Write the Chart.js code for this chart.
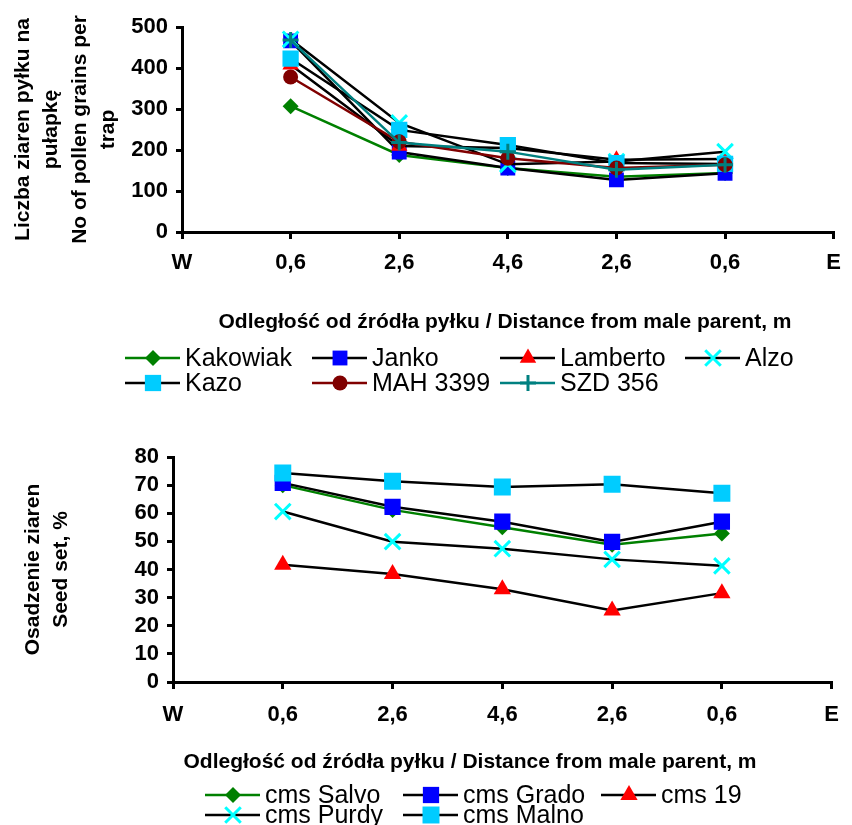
<!DOCTYPE html>
<html>
<head>
<meta charset="utf-8">
<script src="https://cdn.jsdelivr.net/npm/chart.js@4.4.1/dist/chart.umd.min.js"></script>
<style>
    html, body { margin: 0; padding: 0; background: #fff; }
    #wrap { width: 852px; height: 825px; position: relative; overflow: hidden; }
    .box { position: absolute; left: 0; width: 852px; }
</style>
</head>
<body>
<div id="wrap">
    <div class="box" style="top:0;height:410px"><canvas id="chartPylek"></canvas></div>
    <div class="box" style="top:410px;height:415px"><canvas id="chartNasiona"></canvas></div>
</div>
<script>
// ===== DANE =====
const KATEGORIE = ['W', '0,6', '2,6', '4,6', '2,6', '0,6', 'E'];

// liczba ziaren pyłku na pułapkę
const kakowiak = [null, 307, 188, 156, 135, 144, null];
const janko    = [null, 466, 195, 156, 127, 143, null];
const lamberto = [null, 408, 210, 205, 176, 178, null];
const alzo     = [null, 470, 266, 165, 172, 196, null];
const kazo     = [null, 423, 249, 212, 168, 166, null];
const mah3399  = [null, 378, 220, 180, 156, 164, null];
const szd356   = [null, 468, 218, 196, 152, 164, null];

// osadzenie ziaren, %
const cmsSalvo = [null, 70.0, 61.2, 55.0, 48.8, 52.8, null];
const cmsGrado = [null, 70.8, 62.3, 57.0, 49.8, 57.0, null];
const cms19    = [null, 41.7, 38.4, 33.0, 25.4, 31.6, null];
const cmsPurdy = [null, 60.6, 49.9, 47.4, 43.6, 41.3, null];
const cmsMalno = [null, 74.3, 71.4, 69.3, 70.3, 67.1, null];

const FONT = "'Liberation Sans', Arial, sans-serif";
const TYTUL_X = 'Odległość od źródła pyłku / Distance from male parent, m';

// ===== POMOCNICZE =====
function seria(label, data, kolor, linia, styl, r, i) {
    const krzyz = styl === 'cross' || styl === 'crossRot';
    return {
        label, data,
        borderColor: linia,
        backgroundColor: kolor,
        pointBackgroundColor: kolor,
        pointBorderColor: kolor,
        pointStyle: styl,
        pointRadius: r,
        pointBorderWidth: krzyz ? 3 : 0,
        borderWidth: 2.5,
        tension: 0,
        order: 20 - i   // późniejsze serie na wierzchu, jak w Excelu
    };
}

// tytuł osi X + legenda (linia + znacznik + tekst), rysowane ręcznie
const legendaPlugin = {
    id: 'legendaLinia',
    afterDraw(chart, args, opts) {
        const ctx = chart.ctx;
        ctx.save();
        ctx.fillStyle = '#000';
        ctx.textBaseline = 'middle';
        ctx.textAlign = 'center';
        ctx.font = `bold 21px ${FONT}`;
        ctx.fillText(TYTUL_X, opts.tytulX, opts.tytulY);

        ctx.font = opts.font;
        ctx.textAlign = 'left';
        chart.data.datasets.forEach((ds, i) => {
            const x = opts.kolumny[i % opts.kolumny.length];
            const y = opts.wiersze[Math.floor(i / opts.kolumny.length)];
            ctx.strokeStyle = ds.borderColor;
            ctx.lineWidth = 2.5;
            ctx.beginPath();
            ctx.moveTo(x, y);
            ctx.lineTo(x + 55, y);
            ctx.stroke();
            ctx.fillStyle = ds.pointBackgroundColor;
            ctx.strokeStyle = ds.pointBorderColor;
            ctx.lineWidth = ds.pointBorderWidth;
            Chart.helpers.drawPoint(ctx, {
                pointStyle: ds.pointStyle,
                radius: ds.pointRadius,
                rotation: 0,
                borderWidth: ds.pointBorderWidth
            }, x + 28, y);
            ctx.fillStyle = '#000';
            ctx.fillText(ds.label, x + 60, y + 1);
        });
        ctx.restore();
    }
};

function opcje(cfg) {
    return {
        responsive: true,
        maintainAspectRatio: false,
        animation: false,
        devicePixelRatio: 1,
        layout: { padding: { top: cfg.top, right: cfg.right, left: 0, bottom: 0 } },
        plugins: {
            legend: { display: false },
            tooltip: { enabled: false },
            legendaLinia: cfg.legenda
        },
        scales: {
            x: {
                type: 'category',
                offset: false,
                afterFit: s => { s.height = cfg.xHeight; },
                border: { display: true, color: '#000', width: 3 },
                grid: { display: true, drawOnChartArea: false, drawTicks: true, tickLength: 7, color: '#000', lineWidth: 3 },
                ticks: { color: '#000', padding: cfg.xPad, maxRotation: 0, autoSkip: false, font: { family: FONT, size: 22, weight: 'bold' } },
                title: { display: false }
            },
            y: {
                min: 0, max: cfg.yMax,
                afterFit: s => { s.width = cfg.yWidth; },
                border: { display: true, color: '#000', width: 3 },
                grid: { display: true, drawOnChartArea: false, drawTicks: true, tickLength: 6, color: '#000', lineWidth: 3 },
                ticks: { stepSize: cfg.step, autoSkip: false, color: '#000', padding: 8, font: { family: FONT, size: 22, weight: 'bold' } },
                title: {
                    display: true, text: cfg.yTitle, color: '#000',
                    font: { family: FONT, size: 21, weight: 'bold', lineHeight: cfg.yLH },
                    padding: { top: cfg.yTitleTop, bottom: 0 }
                }
            }
        }
    };
}

// ===== WYKRES 1: pyłek =====
new Chart(document.getElementById('chartPylek'), {
    type: 'line',
    data: {
        labels: KATEGORIE,
        datasets: [
            seria('Kakowiak', kakowiak, '#008000', '#008000', 'rectRot', 8, 0),
            seria('Janko', janko, '#0000FF', '#000000', 'rect', 10.5, 1),
            seria('Lamberto', lamberto, '#FF0000', '#000000', 'triangle', 9.5, 2),
            seria('Alzo', alzo, '#00FFFF', '#000000', 'crossRot', 11, 3),
            seria('Kazo', kazo, '#00CCFF', '#000000', 'rect', 11.5, 4),
            seria('MAH 3399', mah3399, '#800000', '#800000', 'circle', 7.5, 5),
            seria('SZD 356', szd356, '#008080', '#008080', 'cross', 8, 6)
        ]
    },
    options: opcje({
        top: 27, right: 9, xHeight: 178, yWidth: 182, xPad: 11,
        yMax: 500, step: 100,
        yTitle: ['Liczba ziaren pyłku na', 'pułapkę', 'No of pollen grains per', 'trap'],
        yLH: 1.35, yTitleTop: 9,
        legenda: { font: `25px ${FONT}`, kolumny: [125, 312, 500, 685], wiersze: [358, 383], tytulX: 505, tytulY: 322 }
    }),
    plugins: [legendaPlugin]
});

// ===== WYKRES 2: osadzenie ziaren =====
new Chart(document.getElementById('chartNasiona'), {
    type: 'line',
    data: {
        labels: KATEGORIE,
        datasets: [
            seria('cms Salvo', cmsSalvo, '#008000', '#008000', 'rectRot', 8, 0),
            seria('cms Grado', cmsGrado, '#0000FF', '#000000', 'rect', 11.5, 1),
            seria('cms 19', cms19, '#FF0000', '#000000', 'triangle', 10, 2),
            seria('cms Purdy', cmsPurdy, '#00FFFF', '#000000', 'crossRot', 11, 3),
            seria('cms Malno', cmsMalno, '#00CCFF', '#000000', 'rect', 12, 4)
        ]
    },
    options: opcje({
        top: 47, right: 10, xHeight: 143, yWidth: 173, xPad: 13,
        yMax: 80, step: 10,
        yTitle: ['Osadzenie ziaren', 'Seed set, %'],
        yLH: 1.3, yTitleTop: 20,
        legenda: { font: `25px ${FONT}`, kolumny: [205, 403, 601], wiersze: [385, 405], tytulX: 470, tytulY: 352 }
    }),
    plugins: [legendaPlugin]
});
</script>
</body>
</html>
